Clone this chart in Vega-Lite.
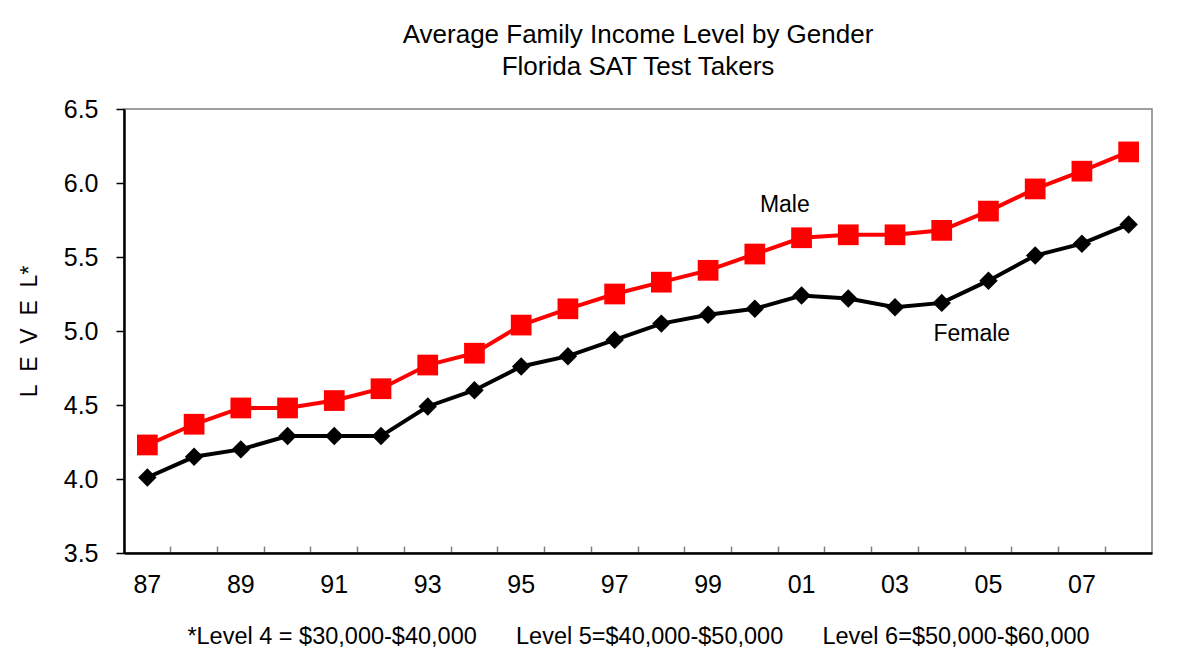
{
  "$schema": "https://vega.github.io/schema/vega-lite/v6.json",
  "width": 1028,
  "height": 444,
  "autosize": "none",
  "padding": {"left": 124, "top": 109, "right": 43, "bottom": 110},
  "background": "white",
  "config": {
    "font": "Liberation Sans",
    "view": {"stroke": "#808080", "strokeWidth": 1.5}
  },
  "title": {
    "text": "Average Family Income Level by Gender",
    "subtitle": "Florida SAT Test Takers",
    "font": "Liberation Sans",
    "subtitleFont": "Liberation Sans",
    "fontSize": 26,
    "subtitleFontSize": 26,
    "fontWeight": "normal",
    "color": "black",
    "subtitleColor": "black",
    "anchor": "middle",
    "offset": 17,
    "subtitlePadding": 6
  },
  "datasets": {
    "series": [
      {"year": 1987, "gender": "Male", "level": 4.23},
      {"year": 1988, "gender": "Male", "level": 4.37},
      {"year": 1989, "gender": "Male", "level": 4.48},
      {"year": 1990, "gender": "Male", "level": 4.48},
      {"year": 1991, "gender": "Male", "level": 4.53},
      {"year": 1992, "gender": "Male", "level": 4.61},
      {"year": 1993, "gender": "Male", "level": 4.77},
      {"year": 1994, "gender": "Male", "level": 4.85},
      {"year": 1995, "gender": "Male", "level": 5.04},
      {"year": 1996, "gender": "Male", "level": 5.15},
      {"year": 1997, "gender": "Male", "level": 5.25},
      {"year": 1998, "gender": "Male", "level": 5.33},
      {"year": 1999, "gender": "Male", "level": 5.41},
      {"year": 2000, "gender": "Male", "level": 5.52},
      {"year": 2001, "gender": "Male", "level": 5.63},
      {"year": 2002, "gender": "Male", "level": 5.65},
      {"year": 2003, "gender": "Male", "level": 5.65},
      {"year": 2004, "gender": "Male", "level": 5.68},
      {"year": 2005, "gender": "Male", "level": 5.81},
      {"year": 2006, "gender": "Male", "level": 5.96},
      {"year": 2007, "gender": "Male", "level": 6.08},
      {"year": 2008, "gender": "Male", "level": 6.21},
      {"year": 1987, "gender": "Female", "level": 4.01},
      {"year": 1988, "gender": "Female", "level": 4.15},
      {"year": 1989, "gender": "Female", "level": 4.20},
      {"year": 1990, "gender": "Female", "level": 4.29},
      {"year": 1991, "gender": "Female", "level": 4.29},
      {"year": 1992, "gender": "Female", "level": 4.29},
      {"year": 1993, "gender": "Female", "level": 4.49},
      {"year": 1994, "gender": "Female", "level": 4.60},
      {"year": 1995, "gender": "Female", "level": 4.76},
      {"year": 1996, "gender": "Female", "level": 4.83},
      {"year": 1997, "gender": "Female", "level": 4.94},
      {"year": 1998, "gender": "Female", "level": 5.05},
      {"year": 1999, "gender": "Female", "level": 5.11},
      {"year": 2000, "gender": "Female", "level": 5.15},
      {"year": 2001, "gender": "Female", "level": 5.24},
      {"year": 2002, "gender": "Female", "level": 5.22},
      {"year": 2003, "gender": "Female", "level": 5.16},
      {"year": 2004, "gender": "Female", "level": 5.19},
      {"year": 2005, "gender": "Female", "level": 5.34},
      {"year": 2006, "gender": "Female", "level": 5.51},
      {"year": 2007, "gender": "Female", "level": 5.59},
      {"year": 2008, "gender": "Female", "level": 5.72}
    ],
    "notes": [
      {"year": 2000, "gender": "Male", "level": 5.85, "label": "Male"},
      {"year": 2004, "gender": "Female", "level": 4.98, "label": "Female"}
    ]
  },
  "encoding": {
    "x": {
      "field": "year",
      "type": "ordinal",
      "scale": {"type": "band", "paddingInner": 0, "paddingOuter": 0},
      "axis": {
        "title": "*Level 4 = $30,000-$40,000\u00a0\u00a0\u00a0\u00a0\u00a0\u00a0Level 5=$40,000-$50,000\u00a0\u00a0\u00a0\u00a0\u00a0\u00a0Level 6=$50,000-$60,000",
        "titleFontSize": 23.5,
        "titleFontWeight": "normal",
        "titleColor": "black",
        "titlePadding": 27,
        "labelAngle": 0,
        "labelFontSize": 25,
        "labelColor": "black",
        "labelPadding": 26,
        "labelExpr": "datum.value % 2 == 1 ? substring(toString(datum.value), 2) : ''",
        "bandPosition": 0,
        "tickSize": -7,
        "tickColor": "#808080",
        "tickWidth": 1.5,
        "domainColor": "black",
        "domainWidth": 2.5,
        "grid": false
      }
    },
    "y": {
      "field": "level",
      "type": "quantitative",
      "scale": {"domain": [3.5, 6.5], "nice": false, "zero": false},
      "axis": {
        "title": "L\u00a0\u00a0E\u00a0\u00a0V\u00a0\u00a0E\u00a0\u00a0L*",
        "titleFontSize": 23,
        "titleFontWeight": "normal",
        "titleColor": "black",
        "titlePadding": 22,
        "values": [3.5, 4.0, 4.5, 5.0, 5.5, 6.0, 6.5],
        "format": ".1f",
        "labelFontSize": 25,
        "labelColor": "black",
        "labelPadding": 18,
        "tickSize": 8,
        "tickColor": "black",
        "tickWidth": 1.5,
        "domainColor": "black",
        "domainWidth": 2.5,
        "grid": false
      }
    },
    "color": {
      "field": "gender",
      "type": "nominal",
      "scale": {"domain": ["Male", "Female"], "range": ["#FF0000", "#000000"]},
      "legend": null
    }
  },
  "layer": [
    {
      "data": {"name": "series"},
      "mark": {"type": "line", "strokeWidth": 4}
    },
    {
      "data": {"name": "series"},
      "mark": {"type": "point", "filled": true, "opacity": 1},
      "encoding": {
        "shape": {
          "field": "gender",
          "type": "nominal",
          "scale": {"domain": ["Male", "Female"], "range": ["square", "diamond"]},
          "legend": null
        },
        "size": {
          "field": "gender",
          "type": "nominal",
          "scale": {"domain": ["Male", "Female"], "range": [430, 340]},
          "legend": null
        }
      }
    },
    {
      "data": {"name": "notes"},
      "mark": {"type": "text", "fontSize": 23, "font": "Liberation Sans", "dx": 30, "align": "center", "baseline": "middle"},
      "encoding": {
        "text": {"field": "label"},
        "color": {"value": "black"}
      }
    }
  ]
}
